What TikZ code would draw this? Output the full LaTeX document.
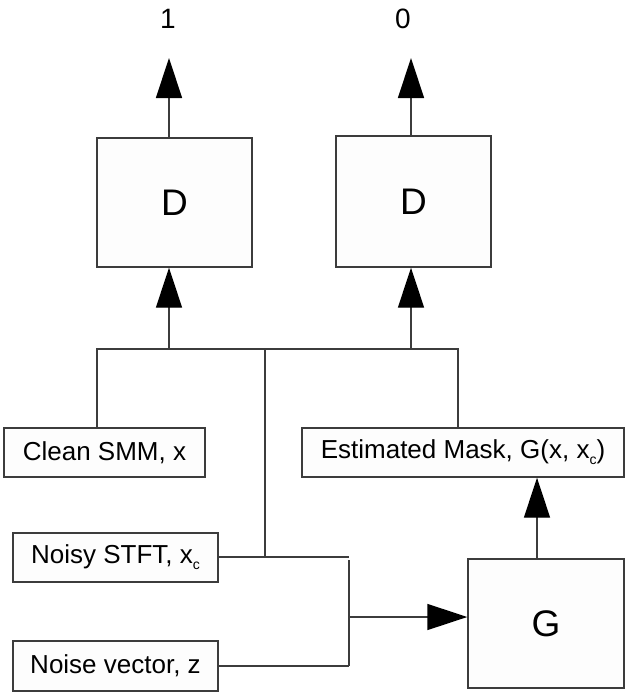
\documentclass[tikz,border=0pt]{standalone}
\usepackage{fontspec}
\setmainfont{Liberation Sans}
\usetikzlibrary{arrows.meta}
\definecolor{ln}{HTML}{3C3C3C}
\definecolor{bx}{HTML}{FDFDFD}
\newcommand{\subc}{\raisebox{-0.45ex}{\fontsize{14}{14}\selectfont c}}
\begin{document}
\begin{tikzpicture}[x=1pt,y=-1pt,
  box/.style={draw=ln,fill=bx,line width=1.4pt,inner sep=0pt,minimum width=#1},
  lbl/.style={font=\fontsize{26}{30}\selectfont},
  big/.style={font=\fontsize{37}{40}\selectfont},
  wire/.style={draw=ln,line width=1.4pt},
  arr/.style={draw=ln,line width=1.4pt,-{Triangle[length=40pt,width=26pt,black]}}]
\useasboundingbox (0,0) rectangle (632,697);
% boxes
\node[box=155pt,minimum height=129pt,big] (D1) at (174.5,202.5) {D};
\node[box=155pt,minimum height=131pt,big] (D2) at (413.5,201.5) {D};
\node[box=201pt,minimum height=49pt,lbl] (clean) at (104.5,452.5) {Clean SMM, x};
\node[box=322pt,minimum height=49pt,lbl] (est) at (463,452.5) {Estimated Mask, G(x, x\subc)};
\node[box=205pt,minimum height=49pt,lbl] (noisy) at (115.5,557.5) {Noisy STFT, x\subc};
\node[box=205pt,minimum height=50pt,lbl] (noise) at (115.5,666) {Noise vector, z};
\node[box=156pt,minimum height=129pt,big] (G) at (546,623.5) {G};
% output labels
\node[font=\fontsize{28}{30}\selectfont] (o1) at (168,19) {1};
\node[font=\fontsize{28}{30}\selectfont] (o0) at (403,19) {0};
% coordinates
\coordinate (t1) at (169,58);
\coordinate (t0) at (411,58);
\coordinate (bl) at (97,349);
\coordinate (br) at (458,349);
\coordinate (bm) at (265,349);
\coordinate (ja) at (349,557);
\coordinate (jb) at (349,560);
\coordinate (jc) at (349,666);
\coordinate (jm) at (349,617);
% outputs
\draw[arr] (t1 |- D1.north) -- (t1);
\draw[arr] (t0 |- D2.north) -- (t0);
% bus
\draw[wire] (bl |- clean.north) -- (bl) -- (br) -- (br |- est.north);
\draw[arr] (t1 |- bl) -- (t1 |- D1.south);
\draw[arr] (t0 |- bl) -- (t0 |- D2.south);
\draw[wire] (bm) -- (bm |- ja);
% generator inputs
\draw[wire] (noisy.east |- ja) -- (ja);
\draw[wire] (jb) -- (jc);
\draw[wire] (noise.east |- jc) -- (jc);
\draw[arr] (jm) -- (G.west |- jm);
\draw[arr] (G.north -| 537,0) -- (est.south -| 537,0);
\end{tikzpicture}
\end{document}
